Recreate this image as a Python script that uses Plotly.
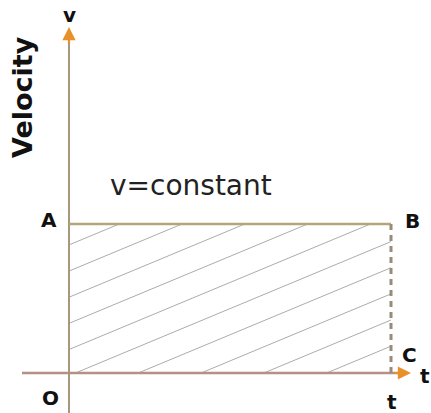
import plotly.graph_objects as go

# points of the v-t graph (uniform motion)
point_names = ["O", "A", "B", "C"]
t_pts = [0, 0, 10, 10]
v_pts = [0, 5, 5, 0]

t_end = t_pts[2]
v_const = v_pts[1]

# pixel scale used to lay the drawing out like the original image
W, H = 431, 413
X0, Y0 = 69, 373          # origin in pixels
sx = 32.2                 # px per t unit
sy = 29.8                 # px per v unit

xr = [-X0 / sx, (W - X0) / sx]
yr = [-(H - Y0) / sy, Y0 / sy]

fig = go.Figure()

# hatch lines inside the rectangle OABC
slope = 0.45
step = 1.95
hx, hy = [], []
k = -8
while True:
    t0 = 0.2 + k * step
    if t0 > t_end:
        break
    # v = slope * (t - t0), clipped to the rectangle
    ta = max(0, t0)
    tb = min(t_end, t0 + v_const / slope)
    if tb > ta:
        hx += [ta, tb, None]
        hy += [slope * (ta - t0), slope * (tb - t0), None]
    k += 1
fig.add_trace(go.Scatter(x=hx, y=hy, mode="lines",
                         line=dict(color="#acacac", width=1),
                         hoverinfo="skip", showlegend=False))

# axes
fig.add_trace(go.Scatter(x=[xr[0] + 22 / sx, t_end + 0.5], y=[0, 0], mode="lines",
                         line=dict(color="#b39088", width=2.5),
                         hoverinfo="skip", showlegend=False))
fig.add_trace(go.Scatter(x=[0, 0], y=[yr[0], (Y0 - 32) / sy], mode="lines",
                         line=dict(color="#a8977a", width=2),
                         hoverinfo="skip", showlegend=False))

# A-B line and dashed B-C
fig.add_trace(go.Scatter(x=t_pts[1:3], y=v_pts[1:3], mode="lines",
                         line=dict(color="#b5a67a", width=2.5),
                         hoverinfo="skip", showlegend=False))
fig.add_trace(go.Scatter(x=t_pts[2:4], y=v_pts[2:4], mode="lines",
                         line=dict(color="#9a8a7a", width=3, dash="6px,5px"),
                         hoverinfo="skip", showlegend=False))

orange = "#e8902a"
y_tip = (Y0 - 27) / sy
x_tip = (411 - X0) / sx
arrows = [
    dict(x=0, y=y_tip, ax=0, ay=18),
    dict(x=x_tip, y=0, ax=-18, ay=0),
]
for a in arrows:
    fig.add_annotation(x=a["x"], y=a["y"], ax=a["ax"], ay=a["ay"],
                       xref="x", yref="y", axref="pixel", ayref="pixel",
                       text="", showarrow=True, arrowhead=2, arrowsize=1.2,
                       arrowwidth=2.2, arrowcolor=orange)

lab_font = dict(family="DejaVu Sans", size=20, color="#111111")
labels = [
    ("A", t_pts[1], v_pts[1], -20, 4),
    ("B", t_pts[2], v_pts[2], 21, 3),
    ("C", t_pts[3], v_pts[3], 18, 18),
    ("O", t_pts[0], v_pts[0], -19, -25),
    ("t", t_end, 0, 1, -29),
    ("t", t_end, 0, 34, -3),
    ("v", 0, y_tip, 0, 12),
]
for txt, x, y, dx, dy in labels:
    fig.add_annotation(x=x, y=y, text="<b>" + txt + "</b>", showarrow=False,
                       xshift=dx, yshift=dy, font=lab_font,
                       xanchor="center", yanchor="middle")

fig.add_annotation(x=0, y=v_const, text="v=constant", showarrow=False,
                   xanchor="left", yanchor="middle", xshift=39, yshift=39,
                   font=dict(family="DejaVu Sans", size=28, color="#222222"))

fig.add_annotation(x=22 / W, y=1 - 97 / H, xref="paper", yref="paper",
                   text="<b>Velocity</b>", textangle=-90, showarrow=False,
                   xanchor="center", yanchor="middle",
                   font=dict(family="DejaVu Sans", size=27, color="#111111"))

fig.update_xaxes(range=xr, visible=False)
fig.update_yaxes(range=yr, visible=False)
fig.update_layout(width=W, height=H, margin=dict(l=0, r=0, t=0, b=0),
                  plot_bgcolor="white", paper_bgcolor="white")

# drop the browser's default body margin so the figure sits at the page corner
fig.write_html("out.html", config={"displayModeBar": False},
               post_script="document.body.style.margin='0';")
